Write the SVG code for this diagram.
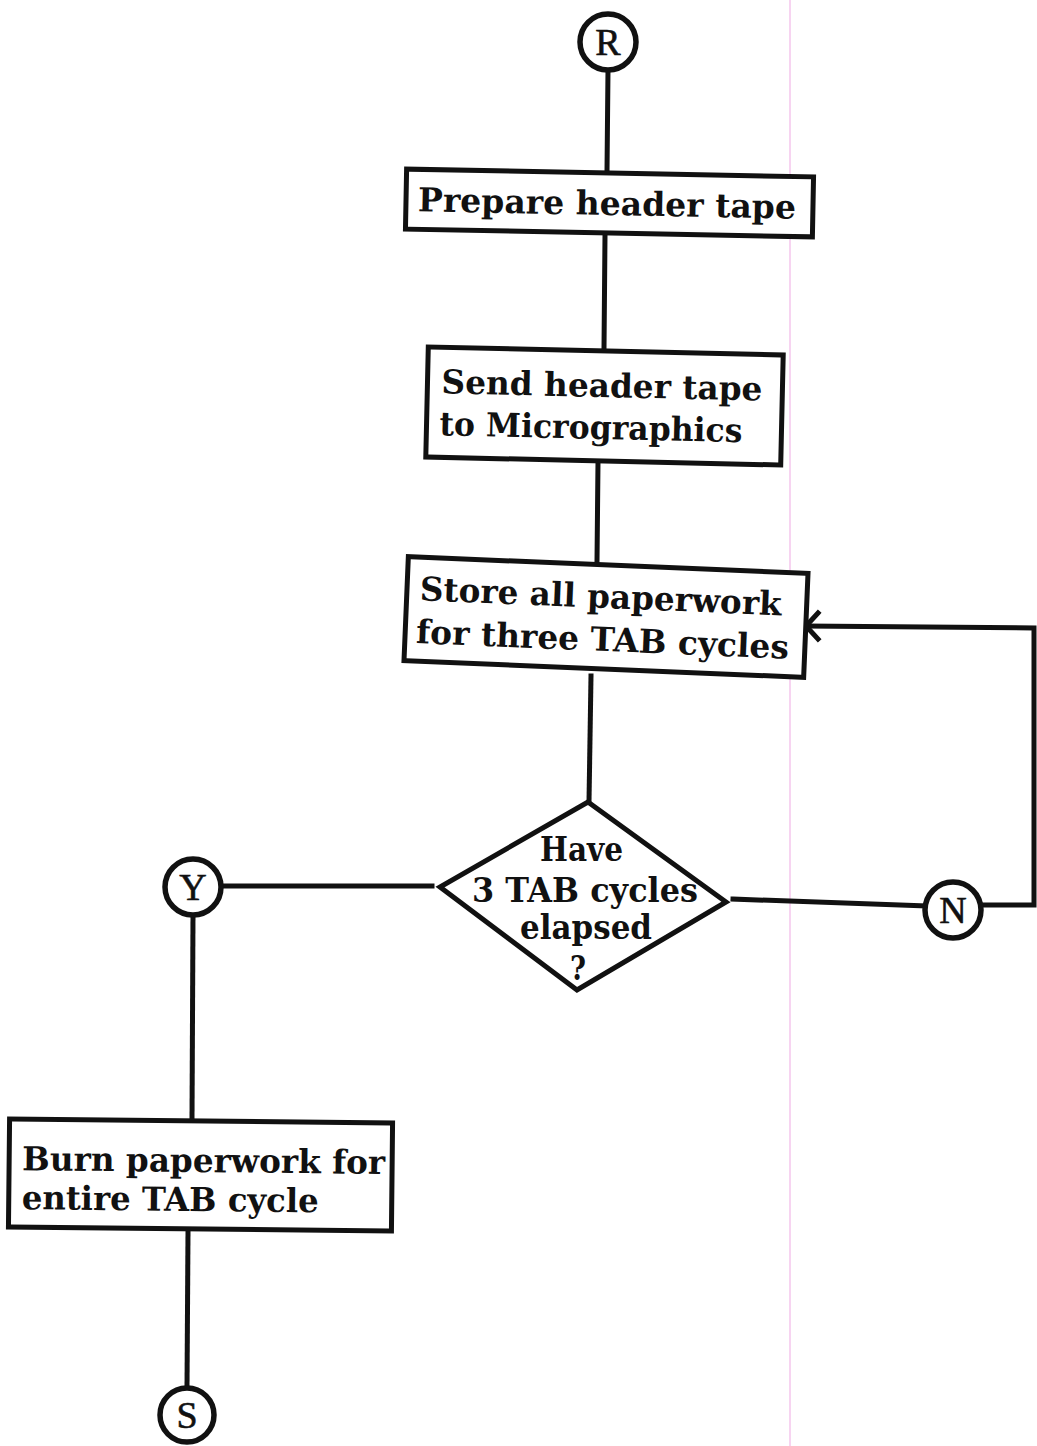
<svg xmlns="http://www.w3.org/2000/svg" width="1037" height="1446" viewBox="0 0 1037 1446">
  <style>
    .box { fill: #fff; stroke: #111; stroke-width: 5; }
    .term { fill: #fff; stroke: #111; stroke-width: 5.5; }
    .wire { fill: none; stroke: #111; stroke-width: 5; stroke-linecap: square; stroke-linejoin: miter; }
    .lbl { font-family: "DejaVu Serif", "Liberation Serif", serif; font-weight: bold; font-size: 33px; fill: #111; }
    .mark { font-family: "Liberation Serif", "DejaVu Serif", serif; font-size: 38px; fill: #111; stroke: #111; stroke-width: 0.6; text-anchor: middle; }
  </style>
  <rect width="1037" height="1446" fill="#fff"/>
  <!-- faint pink rule down the sheet -->
  <line x1="790" y1="0" x2="790" y2="1446" stroke="#f4c6ec" stroke-width="1.5"/>

  <g id="connectors">
    <line class="wire" x1="608" y1="70" x2="607" y2="172"/>
    <line class="wire" x1="605" y1="236" x2="604" y2="348"/>
    <line class="wire" x1="598" y1="462" x2="597" y2="562"/>
    <line class="wire" x1="591" y1="676" x2="589" y2="802"/>
    <line class="wire" x1="221" y1="886" x2="432" y2="886"/>
    <line class="wire" x1="193" y1="915" x2="192" y2="1120"/>
    <line class="wire" x1="188" y1="1232" x2="187" y2="1388"/>
    <line class="wire" x1="733" y1="899" x2="925" y2="906"/>
    <polyline class="wire" points="981,905 1034,905 1034,628 806,626"/>
    <polyline class="wire" points="818,613 806,626 818,639"/>
  </g>

  <g id="node-r">
    <circle class="term" cx="608" cy="42" r="28"/>
    <text class="mark" x="608" y="55">R</text>
  </g>

  <g id="node-prepare" transform="rotate(1.1 610 203)">
    <rect class="box" x="406" y="173" width="407" height="60"/>
    <text class="lbl" x="418" y="215" textLength="378" lengthAdjust="spacingAndGlyphs">Prepare header tape</text>
  </g>

  <g id="node-send" transform="rotate(1.3 604 406)">
    <rect class="box" x="427" y="351" width="355" height="110"/>
    <text class="lbl" x="441" y="397" textLength="321" lengthAdjust="spacingAndGlyphs">Send header tape</text>
    <text class="lbl" x="440" y="439" textLength="303" lengthAdjust="spacingAndGlyphs">to Micrographics</text>
  </g>

  <g id="node-store" transform="rotate(2.4 606 617)">
    <rect class="box" x="406" y="565" width="400" height="104"/>
    <text class="lbl" x="419" y="608" textLength="362" lengthAdjust="spacingAndGlyphs">Store all paperwork</text>
    <text class="lbl" x="417" y="651" textLength="373" lengthAdjust="spacingAndGlyphs">for three TAB cycles</text>
  </g>

  <g id="node-decision">
    <polygon class="box" points="588,802 726,902 577,990 440,887"/>
    <text class="lbl" x="540" y="861" textLength="83" lengthAdjust="spacingAndGlyphs">Have</text>
    <text class="lbl" x="472" y="902" textLength="226" lengthAdjust="spacingAndGlyphs">3 TAB cycles</text>
    <text class="lbl" x="520" y="939" textLength="132" lengthAdjust="spacingAndGlyphs">elapsed</text>
    <text class="lbl" x="570" y="980" font-size="28" textLength="16" lengthAdjust="spacingAndGlyphs">?</text>
  </g>

  <g id="node-y">
    <circle class="term" cx="193" cy="887" r="28"/>
    <text class="mark" x="193" y="900">Y</text>
  </g>

  <g id="node-n">
    <circle class="term" cx="953" cy="910" r="28"/>
    <text class="mark" x="953" y="923">N</text>
  </g>

  <g id="node-burn" transform="rotate(0.6 200 1176)">
    <rect class="box" x="9" y="1121" width="383" height="108"/>
    <text class="lbl" x="22" y="1172" textLength="363" lengthAdjust="spacingAndGlyphs">Burn paperwork for</text>
    <text class="lbl" x="22" y="1211" textLength="297" lengthAdjust="spacingAndGlyphs">entire TAB cycle</text>
  </g>

  <g id="node-s">
    <circle class="term" cx="187" cy="1415" r="27"/>
    <text class="mark" x="187" y="1428">S</text>
  </g>
</svg>
